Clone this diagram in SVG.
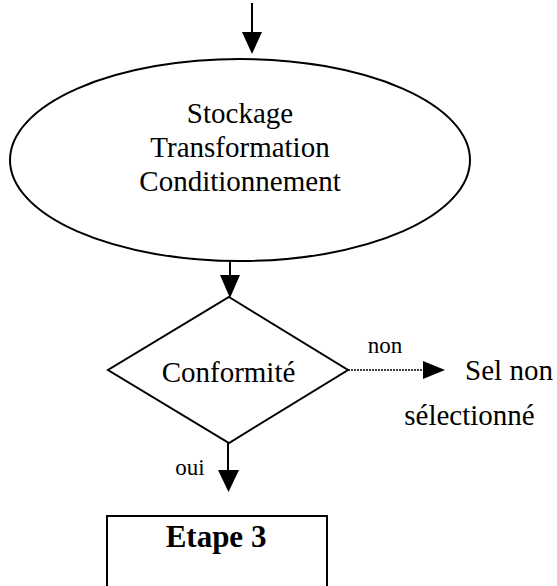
<svg xmlns="http://www.w3.org/2000/svg" width="557" height="586" viewBox="0 0 557 586">
<style>
  .shape { fill: none; stroke: #000; stroke-width: 2; }
  .line { fill: none; stroke: #000; stroke-width: 2; }
  .dotted { fill: none; stroke: #000; stroke-width: 1.6; stroke-dasharray: 2 1; }
  .head { fill: #000; stroke: none; }
  .txt { font-family: "Liberation Serif", "Times New Roman", serif; font-size: 29px; fill: #000; text-anchor: middle; }
  .lbl { font-family: "Liberation Serif", "Times New Roman", serif; font-size: 23px; fill: #000; text-anchor: middle; }
  .bold { font-weight: bold; font-size: 31px; }
</style>
<rect width="557" height="586" fill="#fff"/>
<g id="connectors">
  <line class="line" x1="252" y1="3" x2="252" y2="36"/>
  <polygon class="head" points="242,32 262,32 252,54"/>
  <line class="line" x1="230" y1="261" x2="230" y2="280"/>
  <polygon class="head" points="220,275 240,275 230,298"/>
  <line class="dotted" x1="348" y1="370" x2="426" y2="370"/>
  <polygon class="head" points="423,361 423,379 445,370"/>
  <text class="lbl" x="385" y="353">non</text>
  <line class="line" x1="228" y1="443" x2="228" y2="474"/>
  <polygon class="head" points="218,470 239,470 228.5,492"/>
  <text class="lbl" x="190" y="475">oui</text>
</g>
<g id="process">
  <ellipse class="shape" cx="240" cy="160" rx="230" ry="101"/>
  <text class="txt" x="240" y="123">Stockage</text>
  <text class="txt" x="240" y="157">Transformation</text>
  <text class="txt" x="240" y="191">Conditionnement</text>
</g>
<g id="decision">
  <polygon class="shape" points="229,297 348,370 229,443 108,370"/>
  <text class="txt" x="228.5" y="382">Conformité</text>
</g>
<g id="rejected">
  <text class="txt" x="509" y="380">Sel non</text>
  <text class="txt" x="469.5" y="425">sélectionné</text>
</g>
<g id="etape3">
  <rect class="shape" x="107" y="516" width="220" height="90"/>
  <text class="txt bold" x="216" y="547">Etape 3</text>
</g>
</svg>
